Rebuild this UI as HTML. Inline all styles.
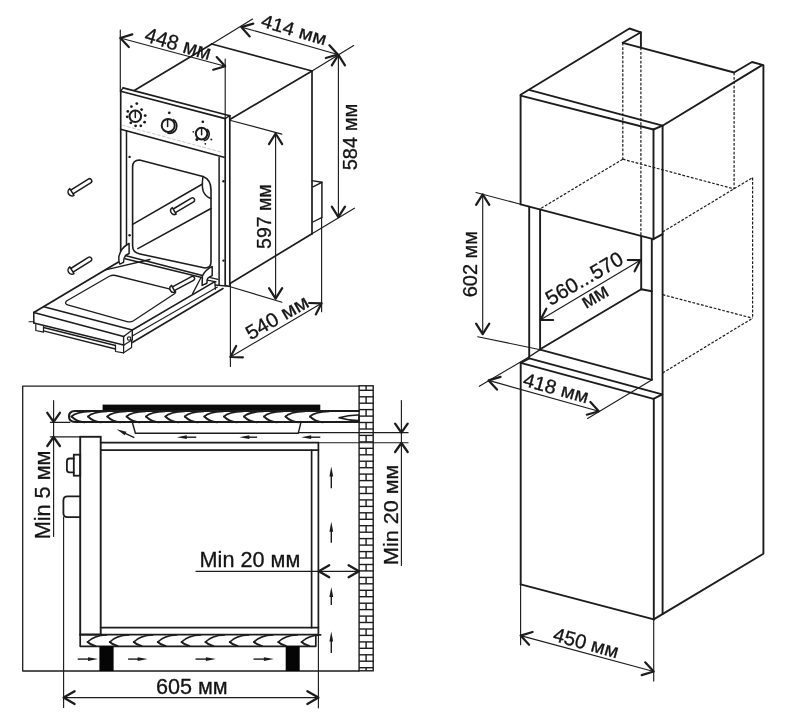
<!DOCTYPE html>
<html><head><meta charset="utf-8"><style>
html,body{margin:0;padding:0;background:#fff;}
svg{display:block;filter:grayscale(1);}
text{font-family:"Liberation Sans",sans-serif;}
</style></head><body>
<svg width="791" height="715" viewBox="0 0 791 715">
<rect width="791" height="715" fill="#fff"/>
<line x1="134.7" y1="90.3" x2="211.8" y2="44.0" stroke="#1c1c1c" stroke-width="1.7" stroke-linecap="round"/>
<line x1="211.8" y1="44.0" x2="312.0" y2="71.0" stroke="#1c1c1c" stroke-width="1.7" stroke-linecap="round"/>
<line x1="312.0" y1="71.0" x2="229.8" y2="119.6" stroke="#1c1c1c" stroke-width="1.7" stroke-linecap="round"/>
<line x1="312.0" y1="71.0" x2="312.0" y2="233.8" stroke="#1c1c1c" stroke-width="1.7" stroke-linecap="round"/>
<line x1="230.4" y1="283.2" x2="312.0" y2="233.8" stroke="#1c1c1c" stroke-width="1.7" stroke-linecap="round"/>
<line x1="312.0" y1="233.8" x2="354.4" y2="208.2" stroke="#1c1c1c" stroke-width="1.15" stroke-linecap="round"/>
<polyline points="312.0,180.6 321.9,182.3 312.9,186.8" fill="none" stroke="#1c1c1c" stroke-width="1.4" stroke-linejoin="round" stroke-linecap="round"/>
<line x1="321.9" y1="182.3" x2="321.9" y2="217.6" stroke="#1c1c1c" stroke-width="1.5" stroke-linecap="round"/>
<line x1="312.9" y1="222.0" x2="321.6" y2="217.6" stroke="#1c1c1c" stroke-width="1.4" stroke-linecap="round"/>
<line x1="123.1" y1="87.9" x2="229.8" y2="115.7" stroke="#1c1c1c" stroke-width="1.7" stroke-linecap="round"/>
<line x1="120.7" y1="91.2" x2="225.2" y2="118.6" stroke="#1c1c1c" stroke-width="1.7" stroke-linecap="round"/>
<line x1="120.7" y1="91.2" x2="123.1" y2="87.9" stroke="#1c1c1c" stroke-width="1.4" stroke-linecap="round"/>
<line x1="225.2" y1="118.6" x2="229.8" y2="115.7" stroke="#1c1c1c" stroke-width="1.4" stroke-linecap="round"/>
<line x1="120.7" y1="91.2" x2="120.7" y2="251.0" stroke="#1c1c1c" stroke-width="1.7" stroke-linecap="round"/>
<line x1="225.2" y1="118.6" x2="225.2" y2="285.6" stroke="#1c1c1c" stroke-width="1.7" stroke-linecap="round"/>
<line x1="229.8" y1="115.7" x2="229.8" y2="285.0" stroke="#1c1c1c" stroke-width="1.7" stroke-linecap="round"/>
<line x1="120.7" y1="129.3" x2="224.0" y2="157.2" stroke="#1c1c1c" stroke-width="1.7" stroke-linecap="round"/>
<line x1="122.3" y1="125.2" x2="221.7" y2="152.3" stroke="#c4c4c4" stroke-width="0.9" stroke-linecap="round" stroke-dasharray="3,2.2"/>
<line x1="126.5" y1="130.8" x2="126.5" y2="244.5" stroke="#1c1c1c" stroke-width="1.5" stroke-linecap="round"/>
<line x1="219.1" y1="157.5" x2="219.1" y2="284.7" stroke="#1c1c1c" stroke-width="1.5" stroke-linecap="round"/>
<circle cx="129.6" cy="156.9" r="1.2" fill="#1c1c1c"/>
<circle cx="129.6" cy="235.2" r="1.2" fill="#1c1c1c"/>
<circle cx="223.5" cy="181.3" r="1.2" fill="#1c1c1c"/>
<circle cx="223.5" cy="260.6" r="1.2" fill="#1c1c1c"/>
<circle cx="135.3" cy="116.3" r="5.8" fill="none" stroke="#1c1c1c" stroke-width="2.0"/>
<line x1="135.3" y1="111.0" x2="135.3" y2="117.5" stroke="#1c1c1c" stroke-width="1.5" stroke-linecap="round"/>
<circle cx="136.8" cy="103.6" r="1.4" fill="#1c1c1c"/>
<circle cx="131.4" cy="106.6" r="1.4" fill="#1c1c1c"/>
<circle cx="127.8" cy="111.4" r="1.4" fill="#1c1c1c"/>
<circle cx="127.2" cy="116.8" r="1.4" fill="#1c1c1c"/>
<circle cx="130.8" cy="122.8" r="1.4" fill="#1c1c1c"/>
<circle cx="135.6" cy="125.8" r="1.4" fill="#1c1c1c"/>
<circle cx="140.8" cy="125.8" r="1.4" fill="#1c1c1c"/>
<circle cx="144.6" cy="122.2" r="1.4" fill="#1c1c1c"/>
<circle cx="145.2" cy="115.6" r="1.4" fill="#1c1c1c"/>
<circle cx="141.6" cy="109.6" r="1.4" fill="#1c1c1c"/>
<circle cx="168.2" cy="125.4" r="6.5" fill="none" stroke="#1c1c1c" stroke-width="2.0"/>
<path d="M173.0,119.6 A7.3,7.3 0 0 1 167.4,133.0" fill="none" stroke="#1c1c1c" stroke-width="1.7"/>
<line x1="167.6" y1="119.8" x2="167.6" y2="126.5" stroke="#1c1c1c" stroke-width="1.5" stroke-linecap="round"/>
<circle cx="169.3" cy="112.8" r="1.4" fill="#1c1c1c"/>
<circle cx="201.6" cy="133.6" r="5.8" fill="none" stroke="#1c1c1c" stroke-width="2.0"/>
<line x1="201.6" y1="128.2" x2="201.6" y2="134.8" stroke="#1c1c1c" stroke-width="1.5" stroke-linecap="round"/>
<path d="M206.8,129.1 A6.6,6.6 0 0 1 203.7,140.7" fill="none" stroke="#1c1c1c" stroke-width="1.6"/>
<circle cx="202.8" cy="121.8" r="1.4" fill="#1c1c1c"/>
<circle cx="193.3" cy="131.8" r="0.9" fill="#1c1c1c"/>
<circle cx="196.9" cy="139.6" r="1.5" fill="#1c1c1c"/>
<circle cx="205.3" cy="143.8" r="0.9" fill="#1c1c1c"/>
<circle cx="211.3" cy="139.6" r="1.0" fill="#1c1c1c"/>
<path d="M132.6,246 L132.6,167 Q132.6,160 139.5,160 L203,176.5 Q211,179.5 211,190 L211,262 Q211,268 205,268 L140,254 Q132.6,252.5 132.6,246 Z" fill="none" stroke="#1c1c1c" stroke-width="1.6" stroke-linejoin="round" stroke-linecap="round" />
<path d="M203,176.5 Q201.5,186 203.3,191.5 Q205.5,196.5 210.8,198.5" fill="none" stroke="#1c1c1c" stroke-width="1.5" stroke-linejoin="round" stroke-linecap="round" />
<line x1="132.6" y1="224.4" x2="202.5" y2="184.0" stroke="#1c1c1c" stroke-width="1.5" stroke-linecap="round"/>
<line x1="137.8" y1="248.6" x2="211.0" y2="208.5" stroke="#1c1c1c" stroke-width="1.5" stroke-linecap="round"/>
<path d="M175.4,212.6 L193.6,201.8 A2.1,2.1 0 0 0 191.4,198.2 L173.2,209.0" fill="#fff" stroke="#1c1c1c" stroke-width="1.5" stroke-linejoin="round" stroke-linecap="round" />
<path d="M176.2,214.1 A3.8,3.8 0 0 1 172.3,207.6 Z" fill="#fff" stroke="#1c1c1c" stroke-width="1.5" stroke-linejoin="round" stroke-linecap="round" />
<line x1="125.1" y1="255.4" x2="202.4" y2="275.6" stroke="#1c1c1c" stroke-width="1.5" stroke-linecap="round"/>
<line x1="125.1" y1="258.8" x2="201.8" y2="277.4" stroke="#1c1c1c" stroke-width="1.5" stroke-linecap="round"/>
<path d="M127.4,244.5 Q121,248 118.9,256.5 Q118.5,262 119.8,264.1 L123.5,262.4 Q123.5,258 125.5,255.5 L129.1,253.5 L129.1,243.4 Z" fill="#fff" stroke="#1c1c1c" stroke-width="1.5" stroke-linejoin="round" stroke-linecap="round" />
<path d="M212.2,266.4 Q205,270 202.4,276 L202.1,285.4 L206.9,283.2 L207.2,279.5 Q208,277.2 209.3,277.2 L212.2,275.6 Z" fill="#fff" stroke="#1c1c1c" stroke-width="1.5" stroke-linejoin="round" stroke-linecap="round" />
<line x1="209.3" y1="277.4" x2="217.9" y2="279.4" stroke="#1c1c1c" stroke-width="1.3" stroke-linecap="round"/>
<line x1="207.3" y1="280.2" x2="216.0" y2="281.8" stroke="#1c1c1c" stroke-width="1.3" stroke-linecap="round"/>
<line x1="33.8" y1="312.5" x2="118.5" y2="262.0" stroke="#1c1c1c" stroke-width="1.8" stroke-linecap="round"/>
<line x1="43.9" y1="306.8" x2="132.3" y2="330.0" stroke="#1c1c1c" stroke-width="1.6" stroke-linecap="round"/>
<line x1="33.8" y1="312.5" x2="123.6" y2="336.4" stroke="#1c1c1c" stroke-width="1.6" stroke-linecap="round"/>
<line x1="123.6" y1="336.4" x2="132.3" y2="330.0" stroke="#1c1c1c" stroke-width="1.3" stroke-linecap="round"/>
<line x1="33.8" y1="312.5" x2="33.8" y2="323.0" stroke="#1c1c1c" stroke-width="1.5" stroke-linecap="round"/>
<line x1="33.8" y1="323.0" x2="123.6" y2="345.0" stroke="#1c1c1c" stroke-width="1.6" stroke-linecap="round"/>
<line x1="123.6" y1="336.4" x2="123.6" y2="345.2" stroke="#1c1c1c" stroke-width="1.4" stroke-linecap="round"/>
<line x1="132.3" y1="330.0" x2="132.3" y2="339.8" stroke="#1c1c1c" stroke-width="1.4" stroke-linecap="round"/>
<line x1="123.6" y1="345.2" x2="132.3" y2="339.8" stroke="#1c1c1c" stroke-width="1.2" stroke-linecap="round"/>
<circle cx="129.1" cy="338.6" r="1.7" fill="none" stroke="#1c1c1c" stroke-width="1.1"/>
<line x1="29.0" y1="321.8" x2="34.0" y2="321.8" stroke="#1c1c1c" stroke-width="1.1" stroke-linecap="round"/>
<polyline points="35.8,324.5 35.8,330.5 43.5,332.2 43.5,326.5" fill="none" stroke="#1c1c1c" stroke-width="1.2" stroke-linejoin="round" stroke-linecap="round"/>
<line x1="43.5" y1="327.5" x2="115.5" y2="345.5" stroke="#1c1c1c" stroke-width="1.3" stroke-linecap="round"/>
<line x1="43.5" y1="330.8" x2="115.5" y2="349.0" stroke="#1c1c1c" stroke-width="1.3" stroke-linecap="round"/>
<polyline points="115.5,345.2 115.5,351.5 123.6,352.8 123.6,345.2" fill="none" stroke="#1c1c1c" stroke-width="1.2" stroke-linejoin="round" stroke-linecap="round"/>
<polyline points="123.6,352.8 131.6,347.5 131.6,340.0" fill="none" stroke="#1c1c1c" stroke-width="1.2" stroke-linejoin="round" stroke-linecap="round"/>
<line x1="132.3" y1="330.0" x2="214.8" y2="281.6" stroke="#1c1c1c" stroke-width="1.6" stroke-linecap="round"/>
<line x1="132.3" y1="336.0" x2="217.4" y2="287.0" stroke="#1c1c1c" stroke-width="1.1" stroke-linecap="round"/>
<line x1="132.3" y1="342.5" x2="223.0" y2="288.5" stroke="#1c1c1c" stroke-width="1.6" stroke-linecap="round"/>
<line x1="214.8" y1="281.6" x2="215.4" y2="289.2" stroke="#1c1c1c" stroke-width="1.3" stroke-linecap="round"/>
<line x1="215.3" y1="285.0" x2="229.8" y2="286.3" stroke="#1c1c1c" stroke-width="1.3" stroke-linecap="round"/>
<line x1="105.5" y1="269.8" x2="150.0" y2="259.5" stroke="#1c1c1c" stroke-width="1.3" stroke-linecap="round"/>
<path d="M66.5,301 L109.8,276 Q112.5,274.8 115.5,275.5 L173.2,289.8 Q177.5,291.2 174.5,293.8 L133.5,320.8 Q130.5,322.6 127,321.6 L68.5,305.2 Q63.8,303.8 66.5,301 Z" fill="none" stroke="#1c1c1c" stroke-width="1.3" stroke-linejoin="round" stroke-linecap="round" />
<line x1="192.6" y1="293.6" x2="200.9" y2="277.8" stroke="#1c1c1c" stroke-width="1.3" stroke-linecap="round"/>
<path d="M174.3,290.6 L193.5,280.4 A2.1,2.1 0 0 0 191.5,276.6 L172.4,286.9" fill="#fff" stroke="#1c1c1c" stroke-width="1.5" stroke-linejoin="round" stroke-linecap="round" />
<path d="M175.1,292.1 A3.8,3.8 0 0 1 171.6,285.4 Z" fill="#fff" stroke="#1c1c1c" stroke-width="1.5" stroke-linejoin="round" stroke-linecap="round" />
<path d="M73.0,193.9 L90.7,182.9 A2.2,2.2 0 0 0 88.3,179.1 L70.7,190.2" fill="#fff" stroke="#1c1c1c" stroke-width="1.5" stroke-linejoin="round" stroke-linecap="round" />
<path d="M74.0,195.4 A4.0,4.0 0 0 1 69.8,188.6 Z" fill="#fff" stroke="#1c1c1c" stroke-width="1.5" stroke-linejoin="round" stroke-linecap="round" />
<path d="M73.0,272.2 L90.7,261.2 A2.2,2.2 0 0 0 88.3,257.4 L70.7,268.5" fill="#fff" stroke="#1c1c1c" stroke-width="1.5" stroke-linejoin="round" stroke-linecap="round" />
<path d="M74.0,273.7 A4.0,4.0 0 0 1 69.8,266.9 Z" fill="#fff" stroke="#1c1c1c" stroke-width="1.5" stroke-linejoin="round" stroke-linecap="round" />
<line x1="120.3" y1="30.0" x2="120.3" y2="91.0" stroke="#1c1c1c" stroke-width="1.15" stroke-linecap="round"/>
<line x1="225.2" y1="59.0" x2="225.2" y2="118.0" stroke="#1c1c1c" stroke-width="1.15" stroke-linecap="round"/>
<line x1="120.3" y1="38.0" x2="225.2" y2="66.2" stroke="#1c1c1c" stroke-width="1.15" stroke-linecap="round"/>
<polyline points="128.8,47.1 120.3,38.0 132.3,34.4" fill="none" stroke="#1c1c1c" stroke-width="2.2" stroke-linejoin="round" stroke-linecap="round"/>
<polyline points="216.7,57.1 225.2,66.2 213.2,69.8" fill="none" stroke="#1c1c1c" stroke-width="2.2" stroke-linejoin="round" stroke-linecap="round"/>
<text transform="translate(143.5,41.0) rotate(16.50)" font-size="21" text-anchor="start" fill="#141414" stroke="#141414" stroke-width="0.3" textLength="68.0" lengthAdjust="spacingAndGlyphs">448 мм</text>
<line x1="211.8" y1="44.0" x2="252.6" y2="19.0" stroke="#1c1c1c" stroke-width="1.15" stroke-linecap="round"/>
<line x1="312.0" y1="71.0" x2="353.7" y2="45.6" stroke="#1c1c1c" stroke-width="1.15" stroke-linecap="round"/>
<line x1="241.3" y1="27.1" x2="337.8" y2="54.5" stroke="#1c1c1c" stroke-width="1.15" stroke-linecap="round"/>
<polyline points="249.7,36.4 241.3,27.1 253.3,23.6" fill="none" stroke="#1c1c1c" stroke-width="2.2" stroke-linejoin="round" stroke-linecap="round"/>
<polyline points="329.4,45.2 337.8,54.5 325.8,58.0" fill="none" stroke="#1c1c1c" stroke-width="2.2" stroke-linejoin="round" stroke-linecap="round"/>
<text transform="translate(260.0,26.3) rotate(16.50)" font-size="18.5" text-anchor="start" fill="#141414" stroke="#141414" stroke-width="0.3" textLength="67.3" lengthAdjust="spacingAndGlyphs">414 мм</text>
<line x1="338.4" y1="54.8" x2="338.4" y2="217.2" stroke="#1c1c1c" stroke-width="1.15" stroke-linecap="round"/>
<polyline points="331.8,65.4 338.4,54.8 345.0,65.4" fill="none" stroke="#1c1c1c" stroke-width="2.2" stroke-linejoin="round" stroke-linecap="round"/>
<polyline points="345.0,206.6 338.4,217.2 331.8,206.6" fill="none" stroke="#1c1c1c" stroke-width="2.2" stroke-linejoin="round" stroke-linecap="round"/>
<text transform="translate(357.4,170.3) rotate(-90.00)" font-size="20" text-anchor="start" fill="#141414" stroke="#141414" stroke-width="0.3" textLength="66.6" lengthAdjust="spacingAndGlyphs">584 мм</text>
<line x1="229.8" y1="120.2" x2="281.8" y2="134.1" stroke="#1c1c1c" stroke-width="1.15" stroke-linecap="round"/>
<line x1="225.2" y1="285.2" x2="282.0" y2="302.2" stroke="#1c1c1c" stroke-width="1.15" stroke-linecap="round"/>
<line x1="275.6" y1="133.5" x2="275.6" y2="298.7" stroke="#1c1c1c" stroke-width="1.15" stroke-linecap="round"/>
<polyline points="269.0,144.1 275.6,133.5 282.2,144.1" fill="none" stroke="#1c1c1c" stroke-width="2.2" stroke-linejoin="round" stroke-linecap="round"/>
<polyline points="282.2,288.1 275.6,298.7 269.0,288.1" fill="none" stroke="#1c1c1c" stroke-width="2.2" stroke-linejoin="round" stroke-linecap="round"/>
<text transform="translate(271.4,248.9) rotate(-90.00)" font-size="20.7" text-anchor="start" fill="#141414" stroke="#141414" stroke-width="0.3" textLength="64.5" lengthAdjust="spacingAndGlyphs">597 мм</text>
<line x1="230.4" y1="283.2" x2="230.4" y2="366.4" stroke="#1c1c1c" stroke-width="1.15" stroke-linecap="round"/>
<line x1="321.6" y1="217.6" x2="321.6" y2="311.7" stroke="#1c1c1c" stroke-width="1.15" stroke-linecap="round"/>
<line x1="230.4" y1="357.0" x2="321.6" y2="303.3" stroke="#1c1c1c" stroke-width="1.15" stroke-linecap="round"/>
<polyline points="242.9,357.3 230.4,357.0 236.2,345.9" fill="none" stroke="#1c1c1c" stroke-width="2.2" stroke-linejoin="round" stroke-linecap="round"/>
<polyline points="309.1,303.0 321.6,303.3 315.8,314.4" fill="none" stroke="#1c1c1c" stroke-width="2.2" stroke-linejoin="round" stroke-linecap="round"/>
<text transform="translate(250.5,340.5) rotate(-30.00)" font-size="20" text-anchor="start" fill="#141414" stroke="#141414" stroke-width="0.3" textLength="69.0" lengthAdjust="spacingAndGlyphs">540 мм</text>
<polyline points="520.6,204.3 520.6,94.8 629.5,28.5 640.9,32.3 640.9,47.5" fill="none" stroke="#1c1c1c" stroke-width="1.9" stroke-linejoin="round" stroke-linecap="round"/>
<polyline points="622.8,42.8 640.9,32.3" fill="none" stroke="#1c1c1c" stroke-width="1.9" stroke-linejoin="round" stroke-linecap="round"/>
<polyline points="622.8,42.8 734.1,72.5 752.0,62.0 763.4,65.1 763.4,553.8 653.7,619.4" fill="none" stroke="#1c1c1c" stroke-width="1.9" stroke-linejoin="round" stroke-linecap="round"/>
<line x1="529.9" y1="90.2" x2="662.5" y2="125.7" stroke="#1c1c1c" stroke-width="1.9" stroke-linecap="round"/>
<line x1="520.6" y1="95.6" x2="653.5" y2="129.5" stroke="#1c1c1c" stroke-width="1.9" stroke-linecap="round"/>
<line x1="653.5" y1="129.5" x2="662.5" y2="125.7" stroke="#1c1c1c" stroke-width="1.9" stroke-linecap="round"/>
<line x1="662.5" y1="125.7" x2="762.1" y2="65.1" stroke="#1c1c1c" stroke-width="1.9" stroke-linecap="round"/>
<line x1="653.5" y1="129.5" x2="653.5" y2="239.2" stroke="#1c1c1c" stroke-width="1.9" stroke-linecap="round"/>
<line x1="662.6" y1="125.7" x2="662.6" y2="614.0" stroke="#1c1c1c" stroke-width="1.9" stroke-linecap="round"/>
<polyline points="520.6,204.3 653.3,239.2 662.6,234.2" fill="none" stroke="#1c1c1c" stroke-width="1.9" stroke-linejoin="round" stroke-linecap="round"/>
<line x1="529.2" y1="206.7" x2="529.2" y2="356.8" stroke="#1c1c1c" stroke-width="1.9" stroke-linecap="round"/>
<line x1="540.1" y1="209.5" x2="540.1" y2="349.3" stroke="#1c1c1c" stroke-width="1.9" stroke-linecap="round"/>
<line x1="641.2" y1="236.6" x2="641.2" y2="289.2" stroke="#1c1c1c" stroke-width="1.9" stroke-linecap="round"/>
<line x1="651.8" y1="239.4" x2="651.8" y2="379.8" stroke="#1c1c1c" stroke-width="1.9" stroke-linecap="round"/>
<line x1="641.2" y1="289.2" x2="651.8" y2="291.3" stroke="#1c1c1c" stroke-width="1.9" stroke-linecap="round"/>
<line x1="540.1" y1="349.3" x2="641.2" y2="289.2" stroke="#1c1c1c" stroke-width="1.9" stroke-linecap="round"/>
<line x1="540.1" y1="349.6" x2="651.8" y2="379.8" stroke="#1c1c1c" stroke-width="1.9" stroke-linecap="round"/>
<line x1="529.2" y1="356.8" x2="540.1" y2="349.6" stroke="#1c1c1c" stroke-width="1.3" stroke-linecap="round"/>
<line x1="529.3" y1="358.3" x2="662.2" y2="394.4" stroke="#1c1c1c" stroke-width="1.9" stroke-linecap="round"/>
<line x1="520.7" y1="362.9" x2="653.5" y2="398.8" stroke="#1c1c1c" stroke-width="1.9" stroke-linecap="round"/>
<line x1="520.7" y1="362.9" x2="529.3" y2="358.3" stroke="#1c1c1c" stroke-width="1.9" stroke-linecap="round"/>
<line x1="653.5" y1="398.8" x2="662.2" y2="394.4" stroke="#1c1c1c" stroke-width="1.9" stroke-linecap="round"/>
<line x1="520.7" y1="362.9" x2="520.7" y2="584.4" stroke="#1c1c1c" stroke-width="1.9" stroke-linecap="round"/>
<line x1="653.8" y1="398.8" x2="653.8" y2="619.4" stroke="#1c1c1c" stroke-width="1.9" stroke-linecap="round"/>
<line x1="520.7" y1="584.4" x2="653.8" y2="619.4" stroke="#1c1c1c" stroke-width="1.9" stroke-linecap="round"/>
<line x1="622.8" y1="42.8" x2="622.8" y2="159.2" stroke="#1c1c1c" stroke-width="1.2" stroke-linecap="butt" stroke-dasharray="2.8,1.6"/>
<line x1="640.9" y1="47.5" x2="640.9" y2="236.5" stroke="#1c1c1c" stroke-width="1.2" stroke-linecap="butt" stroke-dasharray="2.8,1.6"/>
<line x1="622.8" y1="159.2" x2="540.2" y2="208.8" stroke="#1c1c1c" stroke-width="1.2" stroke-linecap="butt" stroke-dasharray="2.8,1.6"/>
<line x1="622.8" y1="159.2" x2="734.1" y2="188.9" stroke="#1c1c1c" stroke-width="1.2" stroke-linecap="butt" stroke-dasharray="2.8,1.6"/>
<line x1="734.1" y1="72.5" x2="734.1" y2="188.9" stroke="#1c1c1c" stroke-width="1.2" stroke-linecap="butt" stroke-dasharray="2.8,1.6"/>
<line x1="662.6" y1="232.0" x2="752.6" y2="177.6" stroke="#1c1c1c" stroke-width="1.2" stroke-linecap="butt" stroke-dasharray="2.8,1.6"/>
<line x1="752.6" y1="177.6" x2="752.6" y2="318.2" stroke="#1c1c1c" stroke-width="1.2" stroke-linecap="butt" stroke-dasharray="2.8,1.6"/>
<line x1="662.6" y1="294.7" x2="752.6" y2="318.2" stroke="#1c1c1c" stroke-width="1.2" stroke-linecap="butt" stroke-dasharray="2.8,1.6"/>
<line x1="662.6" y1="373.0" x2="752.6" y2="318.2" stroke="#1c1c1c" stroke-width="1.2" stroke-linecap="butt" stroke-dasharray="2.8,1.6"/>
<line x1="476.0" y1="192.5" x2="520.6" y2="204.3" stroke="#1c1c1c" stroke-width="1.15" stroke-linecap="round"/>
<line x1="477.7" y1="336.8" x2="540.4" y2="349.7" stroke="#1c1c1c" stroke-width="1.15" stroke-linecap="round"/>
<line x1="482.7" y1="194.3" x2="482.7" y2="334.2" stroke="#1c1c1c" stroke-width="1.15" stroke-linecap="round"/>
<polyline points="476.1,204.9 482.7,194.3 489.3,204.9" fill="none" stroke="#1c1c1c" stroke-width="2.2" stroke-linejoin="round" stroke-linecap="round"/>
<polyline points="489.3,323.6 482.7,334.2 476.1,323.6" fill="none" stroke="#1c1c1c" stroke-width="2.2" stroke-linejoin="round" stroke-linecap="round"/>
<text transform="translate(476.6,297.3) rotate(-90.00)" font-size="21" text-anchor="start" fill="#141414" stroke="#141414" stroke-width="0.3" textLength="66.4" lengthAdjust="spacingAndGlyphs">602 мм</text>
<line x1="540.6" y1="319.8" x2="640.3" y2="260.2" stroke="#1c1c1c" stroke-width="1.15" stroke-linecap="round"/>
<polyline points="553.1,320.0 540.6,319.8 546.3,308.7" fill="none" stroke="#1c1c1c" stroke-width="2.2" stroke-linejoin="round" stroke-linecap="round"/>
<polyline points="627.8,260.0 640.3,260.2 634.6,271.3" fill="none" stroke="#1c1c1c" stroke-width="2.2" stroke-linejoin="round" stroke-linecap="round"/>
<text transform="translate(550.5,306.0) rotate(-30.00)" font-size="20.5" text-anchor="start" fill="#141414" stroke="#141414" stroke-width="0.3" textLength="86.0" lengthAdjust="spacingAndGlyphs">560...570</text>
<text transform="translate(586.0,309.0) rotate(-30.50)" font-size="20.5" text-anchor="start" fill="#141414" stroke="#141414" stroke-width="0.3" textLength="28.0" lengthAdjust="spacingAndGlyphs">мм</text>
<line x1="479.3" y1="386.3" x2="529.3" y2="356.8" stroke="#1c1c1c" stroke-width="1.15" stroke-linecap="round"/>
<line x1="587.6" y1="418.4" x2="652.1" y2="379.8" stroke="#1c1c1c" stroke-width="1.15" stroke-linecap="round"/>
<line x1="488.6" y1="380.4" x2="598.8" y2="411.2" stroke="#1c1c1c" stroke-width="1.15" stroke-linecap="round"/>
<polyline points="497.0,389.6 488.6,380.4 500.6,376.9" fill="none" stroke="#1c1c1c" stroke-width="2.2" stroke-linejoin="round" stroke-linecap="round"/>
<polyline points="590.4,402.0 598.8,411.2 586.8,414.7" fill="none" stroke="#1c1c1c" stroke-width="2.2" stroke-linejoin="round" stroke-linecap="round"/>
<text transform="translate(522.0,385.5) rotate(15.50)" font-size="19.5" text-anchor="start" fill="#141414" stroke="#141414" stroke-width="0.3" textLength="67.0" lengthAdjust="spacingAndGlyphs">418 мм</text>
<line x1="520.6" y1="584.4" x2="520.6" y2="644.7" stroke="#1c1c1c" stroke-width="1.15" stroke-linecap="round"/>
<line x1="653.7" y1="619.4" x2="653.7" y2="681.1" stroke="#1c1c1c" stroke-width="1.15" stroke-linecap="round"/>
<line x1="520.6" y1="635.6" x2="653.7" y2="671.5" stroke="#1c1c1c" stroke-width="1.15" stroke-linecap="round"/>
<polyline points="529.1,644.8 520.6,635.6 532.6,632.0" fill="none" stroke="#1c1c1c" stroke-width="2.2" stroke-linejoin="round" stroke-linecap="round"/>
<polyline points="645.2,662.3 653.7,671.5 641.7,675.1" fill="none" stroke="#1c1c1c" stroke-width="2.2" stroke-linejoin="round" stroke-linecap="round"/>
<text transform="translate(552.0,640.5) rotate(15.50)" font-size="20" text-anchor="start" fill="#141414" stroke="#141414" stroke-width="0.3" textLength="67.0" lengthAdjust="spacingAndGlyphs">450 мм</text>
<polyline points="359.1,386.2 22.7,386.2 22.7,671.0 359.1,671.0" fill="none" stroke="#1c1c1c" stroke-width="1.3" stroke-linejoin="round" stroke-linecap="round"/>
<rect x="359.1" y="385.8" width="14.1" height="285.0" rx="0" fill="none" stroke="#1c1c1c" stroke-width="1.4"/>
<line x1="366.1" y1="385.8" x2="366.1" y2="390.3" stroke="#1c1c1c" stroke-width="1.4" stroke-linecap="butt"/>
<line x1="359.1" y1="390.3" x2="373.2" y2="390.3" stroke="#1c1c1c" stroke-width="1.4" stroke-linecap="butt"/>
<line x1="359.1" y1="396.8" x2="373.2" y2="396.8" stroke="#1c1c1c" stroke-width="1.4" stroke-linecap="butt"/>
<line x1="366.1" y1="396.8" x2="366.1" y2="403.2" stroke="#1c1c1c" stroke-width="1.4" stroke-linecap="butt"/>
<line x1="359.1" y1="403.2" x2="373.2" y2="403.2" stroke="#1c1c1c" stroke-width="1.4" stroke-linecap="butt"/>
<line x1="359.1" y1="409.6" x2="373.2" y2="409.6" stroke="#1c1c1c" stroke-width="1.4" stroke-linecap="butt"/>
<line x1="366.1" y1="409.6" x2="366.1" y2="416.1" stroke="#1c1c1c" stroke-width="1.4" stroke-linecap="butt"/>
<line x1="359.1" y1="416.1" x2="373.2" y2="416.1" stroke="#1c1c1c" stroke-width="1.4" stroke-linecap="butt"/>
<line x1="359.1" y1="422.5" x2="373.2" y2="422.5" stroke="#1c1c1c" stroke-width="1.4" stroke-linecap="butt"/>
<line x1="366.1" y1="422.5" x2="366.1" y2="429.0" stroke="#1c1c1c" stroke-width="1.4" stroke-linecap="butt"/>
<line x1="359.1" y1="429.0" x2="373.2" y2="429.0" stroke="#1c1c1c" stroke-width="1.4" stroke-linecap="butt"/>
<line x1="359.1" y1="435.4" x2="373.2" y2="435.4" stroke="#1c1c1c" stroke-width="1.4" stroke-linecap="butt"/>
<line x1="366.1" y1="435.4" x2="366.1" y2="441.9" stroke="#1c1c1c" stroke-width="1.4" stroke-linecap="butt"/>
<line x1="359.1" y1="441.9" x2="373.2" y2="441.9" stroke="#1c1c1c" stroke-width="1.4" stroke-linecap="butt"/>
<line x1="359.1" y1="448.3" x2="373.2" y2="448.3" stroke="#1c1c1c" stroke-width="1.4" stroke-linecap="butt"/>
<line x1="366.1" y1="448.3" x2="366.1" y2="454.8" stroke="#1c1c1c" stroke-width="1.4" stroke-linecap="butt"/>
<line x1="359.1" y1="454.8" x2="373.2" y2="454.8" stroke="#1c1c1c" stroke-width="1.4" stroke-linecap="butt"/>
<line x1="359.1" y1="461.2" x2="373.2" y2="461.2" stroke="#1c1c1c" stroke-width="1.4" stroke-linecap="butt"/>
<line x1="366.1" y1="461.2" x2="366.1" y2="467.7" stroke="#1c1c1c" stroke-width="1.4" stroke-linecap="butt"/>
<line x1="359.1" y1="467.7" x2="373.2" y2="467.7" stroke="#1c1c1c" stroke-width="1.4" stroke-linecap="butt"/>
<line x1="359.1" y1="474.1" x2="373.2" y2="474.1" stroke="#1c1c1c" stroke-width="1.4" stroke-linecap="butt"/>
<line x1="366.1" y1="474.1" x2="366.1" y2="480.6" stroke="#1c1c1c" stroke-width="1.4" stroke-linecap="butt"/>
<line x1="359.1" y1="480.6" x2="373.2" y2="480.6" stroke="#1c1c1c" stroke-width="1.4" stroke-linecap="butt"/>
<line x1="359.1" y1="487.0" x2="373.2" y2="487.0" stroke="#1c1c1c" stroke-width="1.4" stroke-linecap="butt"/>
<line x1="366.1" y1="487.0" x2="366.1" y2="493.5" stroke="#1c1c1c" stroke-width="1.4" stroke-linecap="butt"/>
<line x1="359.1" y1="493.5" x2="373.2" y2="493.5" stroke="#1c1c1c" stroke-width="1.4" stroke-linecap="butt"/>
<line x1="359.1" y1="499.9" x2="373.2" y2="499.9" stroke="#1c1c1c" stroke-width="1.4" stroke-linecap="butt"/>
<line x1="366.1" y1="499.9" x2="366.1" y2="506.4" stroke="#1c1c1c" stroke-width="1.4" stroke-linecap="butt"/>
<line x1="359.1" y1="506.4" x2="373.2" y2="506.4" stroke="#1c1c1c" stroke-width="1.4" stroke-linecap="butt"/>
<line x1="359.1" y1="512.8" x2="373.2" y2="512.8" stroke="#1c1c1c" stroke-width="1.4" stroke-linecap="butt"/>
<line x1="366.1" y1="512.8" x2="366.1" y2="519.3" stroke="#1c1c1c" stroke-width="1.4" stroke-linecap="butt"/>
<line x1="359.1" y1="519.3" x2="373.2" y2="519.3" stroke="#1c1c1c" stroke-width="1.4" stroke-linecap="butt"/>
<line x1="359.1" y1="525.7" x2="373.2" y2="525.7" stroke="#1c1c1c" stroke-width="1.4" stroke-linecap="butt"/>
<line x1="366.1" y1="525.7" x2="366.1" y2="532.2" stroke="#1c1c1c" stroke-width="1.4" stroke-linecap="butt"/>
<line x1="359.1" y1="532.2" x2="373.2" y2="532.2" stroke="#1c1c1c" stroke-width="1.4" stroke-linecap="butt"/>
<line x1="359.1" y1="538.6" x2="373.2" y2="538.6" stroke="#1c1c1c" stroke-width="1.4" stroke-linecap="butt"/>
<line x1="366.1" y1="538.6" x2="366.1" y2="545.1" stroke="#1c1c1c" stroke-width="1.4" stroke-linecap="butt"/>
<line x1="359.1" y1="545.1" x2="373.2" y2="545.1" stroke="#1c1c1c" stroke-width="1.4" stroke-linecap="butt"/>
<line x1="359.1" y1="551.6" x2="373.2" y2="551.6" stroke="#1c1c1c" stroke-width="1.4" stroke-linecap="butt"/>
<line x1="366.1" y1="551.6" x2="366.1" y2="558.0" stroke="#1c1c1c" stroke-width="1.4" stroke-linecap="butt"/>
<line x1="359.1" y1="558.0" x2="373.2" y2="558.0" stroke="#1c1c1c" stroke-width="1.4" stroke-linecap="butt"/>
<line x1="359.1" y1="564.5" x2="373.2" y2="564.5" stroke="#1c1c1c" stroke-width="1.4" stroke-linecap="butt"/>
<line x1="366.1" y1="564.5" x2="366.1" y2="570.9" stroke="#1c1c1c" stroke-width="1.4" stroke-linecap="butt"/>
<line x1="359.1" y1="570.9" x2="373.2" y2="570.9" stroke="#1c1c1c" stroke-width="1.4" stroke-linecap="butt"/>
<line x1="359.1" y1="577.4" x2="373.2" y2="577.4" stroke="#1c1c1c" stroke-width="1.4" stroke-linecap="butt"/>
<line x1="366.1" y1="577.4" x2="366.1" y2="583.8" stroke="#1c1c1c" stroke-width="1.4" stroke-linecap="butt"/>
<line x1="359.1" y1="583.8" x2="373.2" y2="583.8" stroke="#1c1c1c" stroke-width="1.4" stroke-linecap="butt"/>
<line x1="359.1" y1="590.3" x2="373.2" y2="590.3" stroke="#1c1c1c" stroke-width="1.4" stroke-linecap="butt"/>
<line x1="366.1" y1="590.3" x2="366.1" y2="596.7" stroke="#1c1c1c" stroke-width="1.4" stroke-linecap="butt"/>
<line x1="359.1" y1="596.7" x2="373.2" y2="596.7" stroke="#1c1c1c" stroke-width="1.4" stroke-linecap="butt"/>
<line x1="359.1" y1="603.2" x2="373.2" y2="603.2" stroke="#1c1c1c" stroke-width="1.4" stroke-linecap="butt"/>
<line x1="366.1" y1="603.2" x2="366.1" y2="609.6" stroke="#1c1c1c" stroke-width="1.4" stroke-linecap="butt"/>
<line x1="359.1" y1="609.6" x2="373.2" y2="609.6" stroke="#1c1c1c" stroke-width="1.4" stroke-linecap="butt"/>
<line x1="359.1" y1="616.1" x2="373.2" y2="616.1" stroke="#1c1c1c" stroke-width="1.4" stroke-linecap="butt"/>
<line x1="366.1" y1="616.1" x2="366.1" y2="622.5" stroke="#1c1c1c" stroke-width="1.4" stroke-linecap="butt"/>
<line x1="359.1" y1="622.5" x2="373.2" y2="622.5" stroke="#1c1c1c" stroke-width="1.4" stroke-linecap="butt"/>
<line x1="359.1" y1="629.0" x2="373.2" y2="629.0" stroke="#1c1c1c" stroke-width="1.4" stroke-linecap="butt"/>
<line x1="366.1" y1="629.0" x2="366.1" y2="635.4" stroke="#1c1c1c" stroke-width="1.4" stroke-linecap="butt"/>
<line x1="359.1" y1="635.4" x2="373.2" y2="635.4" stroke="#1c1c1c" stroke-width="1.4" stroke-linecap="butt"/>
<line x1="359.1" y1="641.9" x2="373.2" y2="641.9" stroke="#1c1c1c" stroke-width="1.4" stroke-linecap="butt"/>
<line x1="366.1" y1="641.9" x2="366.1" y2="648.3" stroke="#1c1c1c" stroke-width="1.4" stroke-linecap="butt"/>
<line x1="359.1" y1="648.3" x2="373.2" y2="648.3" stroke="#1c1c1c" stroke-width="1.4" stroke-linecap="butt"/>
<line x1="359.1" y1="654.8" x2="373.2" y2="654.8" stroke="#1c1c1c" stroke-width="1.4" stroke-linecap="butt"/>
<line x1="366.1" y1="654.8" x2="366.1" y2="661.2" stroke="#1c1c1c" stroke-width="1.4" stroke-linecap="butt"/>
<line x1="359.1" y1="661.2" x2="373.2" y2="661.2" stroke="#1c1c1c" stroke-width="1.4" stroke-linecap="butt"/>
<line x1="359.1" y1="667.7" x2="373.2" y2="667.7" stroke="#1c1c1c" stroke-width="1.4" stroke-linecap="butt"/>
<line x1="366.1" y1="667.7" x2="366.1" y2="670.8" stroke="#1c1c1c" stroke-width="1.4" stroke-linecap="butt"/>
<rect x="102.6" y="404.6" width="217.7" height="5.9" rx="0" fill="#0a0a0a" stroke="#1c1c1c" stroke-width="0"/>
<path d="M359.1,411.0 L75,411.0 Q69.0,411.0 69.0,416.6 Q69.0,422.0 75,422.0 L359.1,422.0" fill="none" stroke="#1c1c1c" stroke-width="2.1" stroke-linejoin="round" stroke-linecap="round" />
<path d="M71.5,416.5 C74.5,413.3 80.5,411.8 90.5,411.4" fill="none" stroke="#1c1c1c" stroke-width="1.8" stroke-linejoin="round" stroke-linecap="round" />
<path d="M71.5,416.5 C74.5,419.5 78.5,422.0 84.5,422.3" fill="none" stroke="#1c1c1c" stroke-width="1.8" stroke-linejoin="round" stroke-linecap="round" />
<path d="M88.0,416.5 C91.0,413.3 97.0,411.8 107.0,411.4" fill="none" stroke="#1c1c1c" stroke-width="1.8" stroke-linejoin="round" stroke-linecap="round" />
<path d="M88.0,416.5 C91.0,419.5 95.0,422.0 101.0,422.3" fill="none" stroke="#1c1c1c" stroke-width="1.8" stroke-linejoin="round" stroke-linecap="round" />
<path d="M107.3,416.5 C110.3,413.3 116.3,411.8 126.3,411.4" fill="none" stroke="#1c1c1c" stroke-width="1.8" stroke-linejoin="round" stroke-linecap="round" />
<path d="M107.3,416.5 C110.3,419.5 114.3,422.0 120.3,422.3" fill="none" stroke="#1c1c1c" stroke-width="1.8" stroke-linejoin="round" stroke-linecap="round" />
<path d="M126.6,416.5 C129.6,413.3 135.6,411.8 145.6,411.4" fill="none" stroke="#1c1c1c" stroke-width="1.8" stroke-linejoin="round" stroke-linecap="round" />
<path d="M126.6,416.5 C129.6,419.5 133.6,422.0 139.6,422.3" fill="none" stroke="#1c1c1c" stroke-width="1.8" stroke-linejoin="round" stroke-linecap="round" />
<path d="M146.0,416.5 C149.0,413.3 155.0,411.8 165.0,411.4" fill="none" stroke="#1c1c1c" stroke-width="1.8" stroke-linejoin="round" stroke-linecap="round" />
<path d="M146.0,416.5 C149.0,419.5 153.0,422.0 159.0,422.3" fill="none" stroke="#1c1c1c" stroke-width="1.8" stroke-linejoin="round" stroke-linecap="round" />
<path d="M165.4,416.5 C168.4,413.3 174.4,411.8 184.4,411.4" fill="none" stroke="#1c1c1c" stroke-width="1.8" stroke-linejoin="round" stroke-linecap="round" />
<path d="M165.4,416.5 C168.4,419.5 172.4,422.0 178.4,422.3" fill="none" stroke="#1c1c1c" stroke-width="1.8" stroke-linejoin="round" stroke-linecap="round" />
<path d="M184.8,416.5 C187.8,413.3 193.8,411.8 203.8,411.4" fill="none" stroke="#1c1c1c" stroke-width="1.8" stroke-linejoin="round" stroke-linecap="round" />
<path d="M184.8,416.5 C187.8,419.5 191.8,422.0 197.8,422.3" fill="none" stroke="#1c1c1c" stroke-width="1.8" stroke-linejoin="round" stroke-linecap="round" />
<path d="M204.3,416.5 C207.3,413.3 213.3,411.8 223.3,411.4" fill="none" stroke="#1c1c1c" stroke-width="1.8" stroke-linejoin="round" stroke-linecap="round" />
<path d="M204.3,416.5 C207.3,419.5 211.3,422.0 217.3,422.3" fill="none" stroke="#1c1c1c" stroke-width="1.8" stroke-linejoin="round" stroke-linecap="round" />
<path d="M224.0,416.5 C227.0,413.3 233.0,411.8 243.0,411.4" fill="none" stroke="#1c1c1c" stroke-width="1.8" stroke-linejoin="round" stroke-linecap="round" />
<path d="M224.0,416.5 C227.0,419.5 231.0,422.0 237.0,422.3" fill="none" stroke="#1c1c1c" stroke-width="1.8" stroke-linejoin="round" stroke-linecap="round" />
<path d="M244.0,416.5 C247.0,413.3 253.0,411.8 263.0,411.4" fill="none" stroke="#1c1c1c" stroke-width="1.8" stroke-linejoin="round" stroke-linecap="round" />
<path d="M244.0,416.5 C247.0,419.5 251.0,422.0 257.0,422.3" fill="none" stroke="#1c1c1c" stroke-width="1.8" stroke-linejoin="round" stroke-linecap="round" />
<path d="M264.0,416.5 C267.0,413.3 273.0,411.8 283.0,411.4" fill="none" stroke="#1c1c1c" stroke-width="1.8" stroke-linejoin="round" stroke-linecap="round" />
<path d="M264.0,416.5 C267.0,419.5 271.0,422.0 277.0,422.3" fill="none" stroke="#1c1c1c" stroke-width="1.8" stroke-linejoin="round" stroke-linecap="round" />
<path d="M285.5,416.5 C288.5,413.3 294.5,411.8 304.5,411.4" fill="none" stroke="#1c1c1c" stroke-width="1.8" stroke-linejoin="round" stroke-linecap="round" />
<path d="M285.5,416.5 C288.5,419.5 292.5,422.0 298.5,422.3" fill="none" stroke="#1c1c1c" stroke-width="1.8" stroke-linejoin="round" stroke-linecap="round" />
<path d="M310.0,416.5 C313.0,413.3 319.0,411.8 329.0,411.4" fill="none" stroke="#1c1c1c" stroke-width="1.8" stroke-linejoin="round" stroke-linecap="round" />
<path d="M310.0,416.5 C313.0,419.5 317.0,422.0 323.0,422.3" fill="none" stroke="#1c1c1c" stroke-width="1.8" stroke-linejoin="round" stroke-linecap="round" />
<path d="M339,417.8 Q349,414.8 359,415.0 L359,420.5 Q349,420.6 339,417.8 Z" fill="none" stroke="#1c1c1c" stroke-width="1.6" stroke-linejoin="round" stroke-linecap="round" />
<polyline points="132.4,422.5 135.4,433.2 298.3,433.2 300.9,422.5" fill="none" stroke="#1c1c1c" stroke-width="1.4" stroke-linejoin="round" stroke-linecap="round"/>
<rect x="80.2" y="436.8" width="20.5" height="197.8" rx="0" fill="none" stroke="#1c1c1c" stroke-width="1.9"/>
<line x1="100.7" y1="442.7" x2="318.4" y2="442.7" stroke="#1c1c1c" stroke-width="1.7" stroke-linecap="round"/>
<line x1="100.7" y1="450.1" x2="318.4" y2="450.1" stroke="#1c1c1c" stroke-width="1.7" stroke-linecap="round"/>
<line x1="318.4" y1="442.7" x2="318.4" y2="634.6" stroke="#1c1c1c" stroke-width="1.7" stroke-linecap="round"/>
<line x1="311.6" y1="450.1" x2="311.6" y2="627.7" stroke="#1c1c1c" stroke-width="1.7" stroke-linecap="round"/>
<line x1="100.7" y1="627.7" x2="318.4" y2="627.7" stroke="#1c1c1c" stroke-width="1.7" stroke-linecap="round"/>
<line x1="80.2" y1="634.6" x2="318.4" y2="634.6" stroke="#1c1c1c" stroke-width="1.7" stroke-linecap="round"/>
<path d="M80.2,634.6 L80.2,646.3 L315.8,646.3 L315.8,634.6" fill="none" stroke="#1c1c1c" stroke-width="1.7" stroke-linejoin="round" stroke-linecap="round" />
<path d="M87.6,642.0 C90.6,638.8 96.6,635.2 106.6,634.8" fill="none" stroke="#1c1c1c" stroke-width="1.8" stroke-linejoin="round" stroke-linecap="round" />
<path d="M87.6,642.0 C90.6,645.0 94.6,645.8 95.6,646.1" fill="none" stroke="#1c1c1c" stroke-width="1.8" stroke-linejoin="round" stroke-linecap="round" />
<path d="M109.8,642.0 C112.8,638.8 118.8,635.2 128.8,634.8" fill="none" stroke="#1c1c1c" stroke-width="1.8" stroke-linejoin="round" stroke-linecap="round" />
<path d="M109.8,642.0 C112.8,645.0 116.8,645.8 117.8,646.1" fill="none" stroke="#1c1c1c" stroke-width="1.8" stroke-linejoin="round" stroke-linecap="round" />
<path d="M133.8,642.0 C136.8,638.8 142.8,635.2 152.8,634.8" fill="none" stroke="#1c1c1c" stroke-width="1.8" stroke-linejoin="round" stroke-linecap="round" />
<path d="M133.8,642.0 C136.8,645.0 140.8,645.8 141.8,646.1" fill="none" stroke="#1c1c1c" stroke-width="1.8" stroke-linejoin="round" stroke-linecap="round" />
<path d="M157.8,642.0 C160.8,638.8 166.8,635.2 176.8,634.8" fill="none" stroke="#1c1c1c" stroke-width="1.8" stroke-linejoin="round" stroke-linecap="round" />
<path d="M157.8,642.0 C160.8,645.0 164.8,645.8 165.8,646.1" fill="none" stroke="#1c1c1c" stroke-width="1.8" stroke-linejoin="round" stroke-linecap="round" />
<path d="M181.6,642.0 C184.6,638.8 190.6,635.2 200.6,634.8" fill="none" stroke="#1c1c1c" stroke-width="1.8" stroke-linejoin="round" stroke-linecap="round" />
<path d="M181.6,642.0 C184.6,645.0 188.6,645.8 189.6,646.1" fill="none" stroke="#1c1c1c" stroke-width="1.8" stroke-linejoin="round" stroke-linecap="round" />
<path d="M205.5,642.0 C208.5,638.8 214.5,635.2 224.5,634.8" fill="none" stroke="#1c1c1c" stroke-width="1.8" stroke-linejoin="round" stroke-linecap="round" />
<path d="M205.5,642.0 C208.5,645.0 212.5,645.8 213.5,646.1" fill="none" stroke="#1c1c1c" stroke-width="1.8" stroke-linejoin="round" stroke-linecap="round" />
<path d="M229.8,642.0 C232.8,638.8 238.8,635.2 248.8,634.8" fill="none" stroke="#1c1c1c" stroke-width="1.8" stroke-linejoin="round" stroke-linecap="round" />
<path d="M229.8,642.0 C232.8,645.0 236.8,645.8 237.8,646.1" fill="none" stroke="#1c1c1c" stroke-width="1.8" stroke-linejoin="round" stroke-linecap="round" />
<path d="M254.0,642.0 C257.0,638.8 263.0,635.2 273.0,634.8" fill="none" stroke="#1c1c1c" stroke-width="1.8" stroke-linejoin="round" stroke-linecap="round" />
<path d="M254.0,642.0 C257.0,645.0 261.0,645.8 262.0,646.1" fill="none" stroke="#1c1c1c" stroke-width="1.8" stroke-linejoin="round" stroke-linecap="round" />
<path d="M278.3,642.0 C281.3,638.8 287.3,635.2 297.3,634.8" fill="none" stroke="#1c1c1c" stroke-width="1.8" stroke-linejoin="round" stroke-linecap="round" />
<path d="M278.3,642.0 C281.3,645.0 285.3,645.8 286.3,646.1" fill="none" stroke="#1c1c1c" stroke-width="1.8" stroke-linejoin="round" stroke-linecap="round" />
<path d="M301.6,642.0 C304.6,638.8 310.6,635.2 320.6,634.8" fill="none" stroke="#1c1c1c" stroke-width="1.8" stroke-linejoin="round" stroke-linecap="round" />
<path d="M301.6,642.0 C304.6,645.0 308.6,645.8 309.6,646.1" fill="none" stroke="#1c1c1c" stroke-width="1.8" stroke-linejoin="round" stroke-linecap="round" />
<rect x="99.4" y="646.3" width="14.2" height="24.7" rx="0" fill="#050505" stroke="#1c1c1c" stroke-width="0"/>
<rect x="285.7" y="646.3" width="14.0" height="24.7" rx="0" fill="#050505" stroke="#1c1c1c" stroke-width="0"/>
<rect x="73.8" y="454.7" width="6.4" height="21.0" rx="0" fill="none" stroke="#1c1c1c" stroke-width="1.8"/>
<path d="M73.8,458.5 L69.5,458.5 Q66.9,458.5 66.9,461.5 L66.9,469.5 Q66.9,472.4 69.5,472.4 L73.8,472.4" fill="none" stroke="#1c1c1c" stroke-width="1.8" stroke-linejoin="round" stroke-linecap="round" />
<path d="M80.2,496.4 L67.5,496.4 Q63.4,496.4 63.4,500.5 L63.4,513.3 Q63.4,517.1 67.5,517.1 L80.2,517.1" fill="none" stroke="#1c1c1c" stroke-width="1.8" stroke-linejoin="round" stroke-linecap="round" />
<line x1="50.3" y1="422.3" x2="70.0" y2="422.3" stroke="#1c1c1c" stroke-width="1.15" stroke-linecap="round"/>
<line x1="50.3" y1="436.8" x2="80.2" y2="436.8" stroke="#1c1c1c" stroke-width="1.15" stroke-linecap="round"/>
<line x1="53.6" y1="400.5" x2="53.6" y2="536.4" stroke="#1c1c1c" stroke-width="1.15" stroke-linecap="round"/>
<polyline points="59.9,412.8 53.6,421.8 47.3,412.8" fill="none" stroke="#1c1c1c" stroke-width="2.3" stroke-linejoin="round" stroke-linecap="round"/>
<polyline points="47.3,446.0 53.6,437.0 59.9,446.0" fill="none" stroke="#1c1c1c" stroke-width="2.3" stroke-linejoin="round" stroke-linecap="round"/>
<text transform="translate(50.0,539.3) rotate(-90.00)" font-size="21.5" text-anchor="start" fill="#141414" stroke="#141414" stroke-width="0.3" textLength="88.7" lengthAdjust="spacingAndGlyphs">Min 5 мм</text>
<line x1="298.3" y1="432.6" x2="408.5" y2="432.6" stroke="#1c1c1c" stroke-width="1.15" stroke-linecap="butt"/>
<line x1="318.4" y1="442.7" x2="408.5" y2="442.7" stroke="#1c1c1c" stroke-width="1.15" stroke-linecap="butt"/>
<line x1="401.4" y1="400.6" x2="401.4" y2="565.5" stroke="#1c1c1c" stroke-width="1.15" stroke-linecap="round"/>
<polyline points="407.7,423.6 401.4,432.6 395.1,423.6" fill="none" stroke="#1c1c1c" stroke-width="2.3" stroke-linejoin="round" stroke-linecap="round"/>
<polyline points="395.1,452.0 401.4,443.0 407.7,452.0" fill="none" stroke="#1c1c1c" stroke-width="2.3" stroke-linejoin="round" stroke-linecap="round"/>
<text transform="translate(398.2,564.9) rotate(-90.00)" font-size="21" text-anchor="start" fill="#141414" stroke="#141414" stroke-width="0.3" textLength="100.3" lengthAdjust="spacingAndGlyphs">Min 20 мм</text>
<text transform="translate(199.6,567.3) rotate(0.00)" font-size="21.5" text-anchor="start" fill="#141414" stroke="#141414" stroke-width="0.3" textLength="100.7" lengthAdjust="spacingAndGlyphs">Min 20 мм</text>
<line x1="196.0" y1="571.3" x2="318.4" y2="571.3" stroke="#1c1c1c" stroke-width="1.15" stroke-linecap="round"/>
<line x1="318.8" y1="571.3" x2="359.0" y2="571.3" stroke="#1c1c1c" stroke-width="1.15" stroke-linecap="round"/>
<polyline points="329.2,577.3 318.8,571.3 329.2,565.3" fill="none" stroke="#1c1c1c" stroke-width="2.3" stroke-linejoin="round" stroke-linecap="round"/>
<polyline points="348.6,565.3 359.0,571.3 348.6,577.3" fill="none" stroke="#1c1c1c" stroke-width="2.3" stroke-linejoin="round" stroke-linecap="round"/>
<line x1="63.6" y1="517.1" x2="63.6" y2="707.4" stroke="#1c1c1c" stroke-width="1.15" stroke-linecap="round"/>
<line x1="318.4" y1="634.6" x2="318.4" y2="707.8" stroke="#1c1c1c" stroke-width="1.15" stroke-linecap="round"/>
<line x1="63.6" y1="697.6" x2="318.4" y2="697.6" stroke="#1c1c1c" stroke-width="1.15" stroke-linecap="round"/>
<polyline points="74.6,704.0 63.6,697.6 74.6,691.2" fill="none" stroke="#1c1c1c" stroke-width="2.3" stroke-linejoin="round" stroke-linecap="round"/>
<polyline points="307.4,691.2 318.4,697.6 307.4,704.0" fill="none" stroke="#1c1c1c" stroke-width="2.3" stroke-linejoin="round" stroke-linecap="round"/>
<text transform="translate(156.0,693.6) rotate(0.00)" font-size="22" text-anchor="start" fill="#141414" stroke="#141414" stroke-width="0.3" textLength="71.7" lengthAdjust="spacingAndGlyphs">605 мм</text>
<line x1="77.7" y1="659.1" x2="92.0" y2="659.1" stroke="#1c1c1c" stroke-width="1.4" stroke-linecap="butt"/>
<polygon points="98.0,659.1 88.0,661.0 88.0,657.2" fill="#1c1c1c"/>
<line x1="128.1" y1="659.1" x2="141.6" y2="659.1" stroke="#1c1c1c" stroke-width="1.4" stroke-linecap="butt"/>
<polygon points="147.6,659.1 137.6,661.0 137.6,657.2" fill="#1c1c1c"/>
<line x1="195.5" y1="659.1" x2="209.9" y2="659.1" stroke="#1c1c1c" stroke-width="1.4" stroke-linecap="butt"/>
<polygon points="215.9,659.1 205.9,661.0 205.9,657.2" fill="#1c1c1c"/>
<line x1="253.5" y1="659.1" x2="267.9" y2="659.1" stroke="#1c1c1c" stroke-width="1.4" stroke-linecap="butt"/>
<polygon points="273.9,659.1 263.9,661.0 263.9,657.2" fill="#1c1c1c"/>
<line x1="196.3" y1="437.2" x2="182.8" y2="437.2" stroke="#1c1c1c" stroke-width="1.4" stroke-linecap="butt"/>
<polygon points="176.8,437.2 186.8,435.3 186.8,439.1" fill="#1c1c1c"/>
<line x1="257.1" y1="437.2" x2="245.4" y2="437.2" stroke="#1c1c1c" stroke-width="1.4" stroke-linecap="butt"/>
<polygon points="239.4,437.2 249.4,435.3 249.4,439.1" fill="#1c1c1c"/>
<line x1="320.3" y1="437.2" x2="307.2" y2="437.2" stroke="#1c1c1c" stroke-width="1.4" stroke-linecap="butt"/>
<polygon points="301.2,437.2 311.2,435.3 311.2,439.1" fill="#1c1c1c"/>
<line x1="134.3" y1="437.7" x2="122.0" y2="431.8" stroke="#1c1c1c" stroke-width="1.4" stroke-linecap="butt"/>
<polygon points="116.6,429.2 126.4,431.8 124.8,435.2" fill="#1c1c1c"/>
<line x1="331.3" y1="488.2" x2="331.3" y2="472.4" stroke="#1c1c1c" stroke-width="1.4" stroke-linecap="butt"/>
<polygon points="331.3,466.4 333.2,476.4 329.4,476.4" fill="#1c1c1c"/>
<line x1="331.3" y1="542.7" x2="331.3" y2="527.8" stroke="#1c1c1c" stroke-width="1.4" stroke-linecap="butt"/>
<polygon points="331.3,521.8 333.2,531.8 329.4,531.8" fill="#1c1c1c"/>
<line x1="331.3" y1="605.0" x2="331.3" y2="593.0" stroke="#1c1c1c" stroke-width="1.4" stroke-linecap="butt"/>
<polygon points="331.3,587.0 333.2,597.0 329.4,597.0" fill="#1c1c1c"/>
<line x1="331.3" y1="653.1" x2="331.3" y2="637.4" stroke="#1c1c1c" stroke-width="1.4" stroke-linecap="butt"/>
<polygon points="331.3,631.4 333.2,641.4 329.4,641.4" fill="#1c1c1c"/>
</svg>
</body></html>
